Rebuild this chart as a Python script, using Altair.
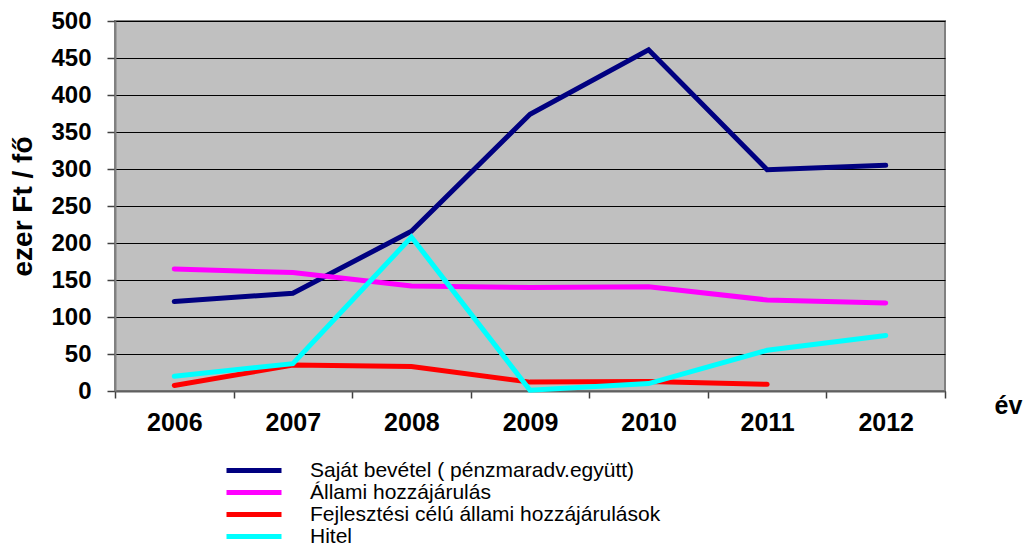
import altair as alt
import pandas as pd

years = ["2006", "2007", "2008", "2009", "2010", "2011", "2012"]
series_names = [
    "Saját bevétel ( pénzmaradv.együtt)",
    "Állami hozzájárulás",
    "Fejlesztési célú állami hozzájárulások",
    "Hitel",
]
sajat = [121, 132, 216, 374, 461, 299, 305]
allami = [165, 160, 142, 140, 141, 123, 119]
fejlesztesi = [7.5, 35, 33, 12, 13, 9, None]
hitel = [20, 37, 208, 1, 10, 55, 75]
colors = ["#000080", "#FF00FF", "#FF0000", "#00FFFF"]
y_ticks = [0, 50, 100, 150, 200, 250, 300, 350, 400, 450, 500]

rows = []
for name, vals in zip(series_names, [sajat, allami, fejlesztesi, hitel]):
    for yr, v in zip(years, vals):
        if v is not None:
            rows.append({"ev": yr, "sorozat": name, "ertek": v})
df = pd.DataFrame(rows)

FONT = "Liberation Sans"

chart = (
    alt.Chart(df)
    .mark_line(strokeWidth=5, strokeCap="round", strokeJoin="miter")
    .encode(
        x=alt.X(
            "ev:O",
            bandPosition=0.5,
            scale=alt.Scale(type="band", domain=years, paddingInner=0, paddingOuter=0),
            axis=alt.Axis(
                title="év",
                titleX=893,
                titleY=22,
                titleAlign="center",
                titleBaseline="alphabetic",
                titleFont=FONT,
                titleFontSize=25,
                titleFontWeight="bold",
                titleColor="#000000",
                labelFont=FONT,
                labelFontSize=25,
                labelFontWeight="bold",
                labelColor="#000000",
                labelAngle=0,
                labelPadding=12,
                tickBand="extent",
                tickSize=7,
                tickColor="#404040",
                tickWidth=1.5,
                domainColor="#606060",
                domainWidth=2,
                grid=False,
            ),
        ),
        y=alt.Y(
            "ertek:Q",
            scale=alt.Scale(domain=[0, 500], nice=False),
            axis=alt.Axis(
                title="ezer Ft / fő",
                titleX=-92,
                titleBaseline="middle",
                titleFont=FONT,
                titleFontSize=28,
                titleFontWeight="bold",
                titleColor="#000000",
                values=y_ticks,
                labelFont=FONT,
                labelFontSize=24,
                labelFontWeight="bold",
                labelColor="#000000",
                labelPadding=16,
                tickSize=8,
                tickColor="#404040",
                tickWidth=1.5,
                domainColor="#808080",
                domainWidth=2,
                grid=True,
                gridColor="#000000",
                gridWidth=1,
            ),
        ),
        color=alt.Color(
            "sorozat:N",
            scale=alt.Scale(domain=series_names, range=colors),
            legend=alt.Legend(
                title=None,
                orient="none",
                legendX=128.5,
                legendY=439,
                padding=0,
                symbolType="M-5,0H5",
                symbolSize=121,
                symbolStrokeWidth=5,
                labelOffset=45.5,
                labelFont=FONT,
                labelFontSize=21,
                labelColor="#000000",
                labelLimit=600,
                rowPadding=0,
            ),
        ),
    )
    .properties(
        width=830,
        height=370,
        background="#FFFFFF",
        autosize=alt.AutoSizeParams(type="none"),
        padding={"left": 107, "top": 13, "right": 81, "bottom": 156},
    )
    .configure_view(fill="#C0C0C0", stroke="#808080", strokeWidth=2)
)

chart.save("out.html", embed_options={"renderer": "svg", "actions": False})
